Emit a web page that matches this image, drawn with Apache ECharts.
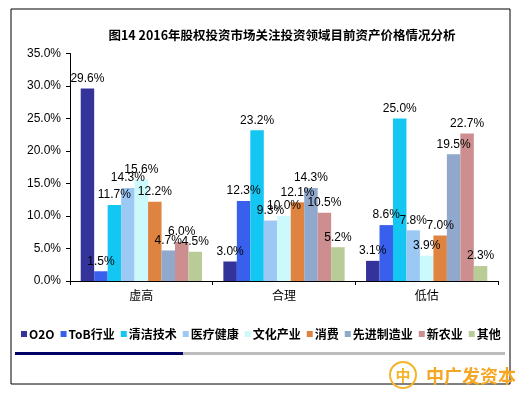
<!DOCTYPE html>
<html><head><meta charset="utf-8">
<script src="https://cdn.jsdelivr.net/npm/echarts@6/dist/echarts.min.js"></script>
<style>html,body{margin:0;padding:0;background:#fff}#c{width:526px;height:395px}</style>
</head><body><div id="c"></div>
<script>
const categories = ['虚高', '合理', '低估'];
const seriesNames = ['O2O', 'ToB行业', '清洁技术', '医疗健康', '文化产业', '消费', '先进制造业', '新农业', '其他'];
const O2O = [29.6, 3.0, 3.1];
const ToB = [1.5, 12.3, 8.6];
const cleanTech = [11.7, 23.2, 25.0];
const health = [14.3, 9.3, 7.8];
const culture = [15.6, 10.0, 3.9];
const consume = [12.2, 12.1, 7.0];
const manufacturing = [4.7, 14.3, 19.5];
const agriculture = [6.0, 10.5, 22.7];
const others = [4.5, 5.2, 2.3];
const yTicks = [0, 5, 10, 15, 20, 25, 30, 35];
const titleText = '图14 2016年股权投资市场关注投资领域目前资产价格情况分析';

const values = [O2O, ToB, cleanTech, health, culture, consume, manufacturing, agriculture, others];
const colors = ['#333399', '#3860EC', '#14C6F2', '#9CC8F4', '#CCFAFC', '#DF8440', '#8FA8CC', '#CC8E8E', '#B9CC98'];

const chart = echarts.init(document.getElementById('c'), null, {renderer: 'canvas'});
chart.setOption({
  animation: false,
  title: {
    text: titleText, left: 277, top: 24, textAlign: 'center',
    textStyle: {fontFamily: 'Noto Sans CJK SC', fontWeight: 'bold', fontSize: 12.5, color: '#000'}
  },
  grid: {left: 70, right: 28, top: 53.5, bottom: 114, containLabel: false},
  legend: {
    data: seriesNames, top: 323, left: 16, itemWidth: 6, itemHeight: 6, itemGap: 6,
    icon: 'rect',
    textStyle: {fontFamily: 'Noto Sans CJK SC', fontWeight: 'bold', fontSize: 12, color: '#000', padding: [0, 0, 0, -3]}
  },
  xAxis: {
    type: 'category', data: categories,
    axisLine: {lineStyle: {color: '#000', width: 1}},
    axisTick: {show: true, alignWithLabel: false, length: 4, inside: false, lineStyle: {color: '#000'}},
    axisLabel: {fontFamily: 'Noto Sans CJK SC', fontSize: 12, color: '#000', margin: 8}
  },
  yAxis: {
    type: 'value', min: 0, max: 35, interval: 5,
    axisLine: {show: true, lineStyle: {color: '#000'}},
    axisTick: {show: true, length: 4, lineStyle: {color: '#000'}},
    splitLine: {show: false},
    axisLabel: {fontFamily: 'Arial, Liberation Sans', fontSize: 12, color: '#000', margin: 9,
      formatter: v => yTicks.includes(v) ? v.toFixed(1) + '%' : ''}
  },
  series: seriesNames.map((n, i) => ({
    name: n, type: 'bar', data: values[i], barGap: '0%', barCategoryGap: '15%',
    itemStyle: {color: colors[i]},
    label: {show: true, position: 'top', distance: 4, fontFamily: 'Arial, Liberation Sans', fontSize: 12, color: '#000',
      formatter: p => p.value.toFixed(1) + '%'}
  })),
  graphic: [
    {type: 'rect', shape: {x: 11, y: 9, width: 499, height: 375}, style: {fill: 'none', stroke: '#000', lineWidth: 1}, z: 100},
    {type: 'rect', shape: {x: 15, y: 352, width: 168, height: 3}, style: {fill: '#000066'}},
    {type: 'rect', shape: {x: 183, y: 352, width: 322, height: 3}, style: {fill: '#BDBDBD'}},
    {type: 'circle', shape: {cx: 403, cy: 375, r: 13}, style: {fill: 'none', stroke: '#F5B429', lineWidth: 2}, z: 101},
    {type: 'text', style: {x: 403, y: 375, text: '中', align: 'center', verticalAlign: 'middle', fill: '#F5B429', font: 'bold 15px "Noto Sans CJK SC"'}, z: 101},
    {type: 'text', style: {x: 426, y: 376, text: '中广发资本', verticalAlign: 'middle', fill: '#F5A623', font: 'bold 18px "Noto Sans CJK SC"'}, z: 101}
  ]
});
</script></body></html>
